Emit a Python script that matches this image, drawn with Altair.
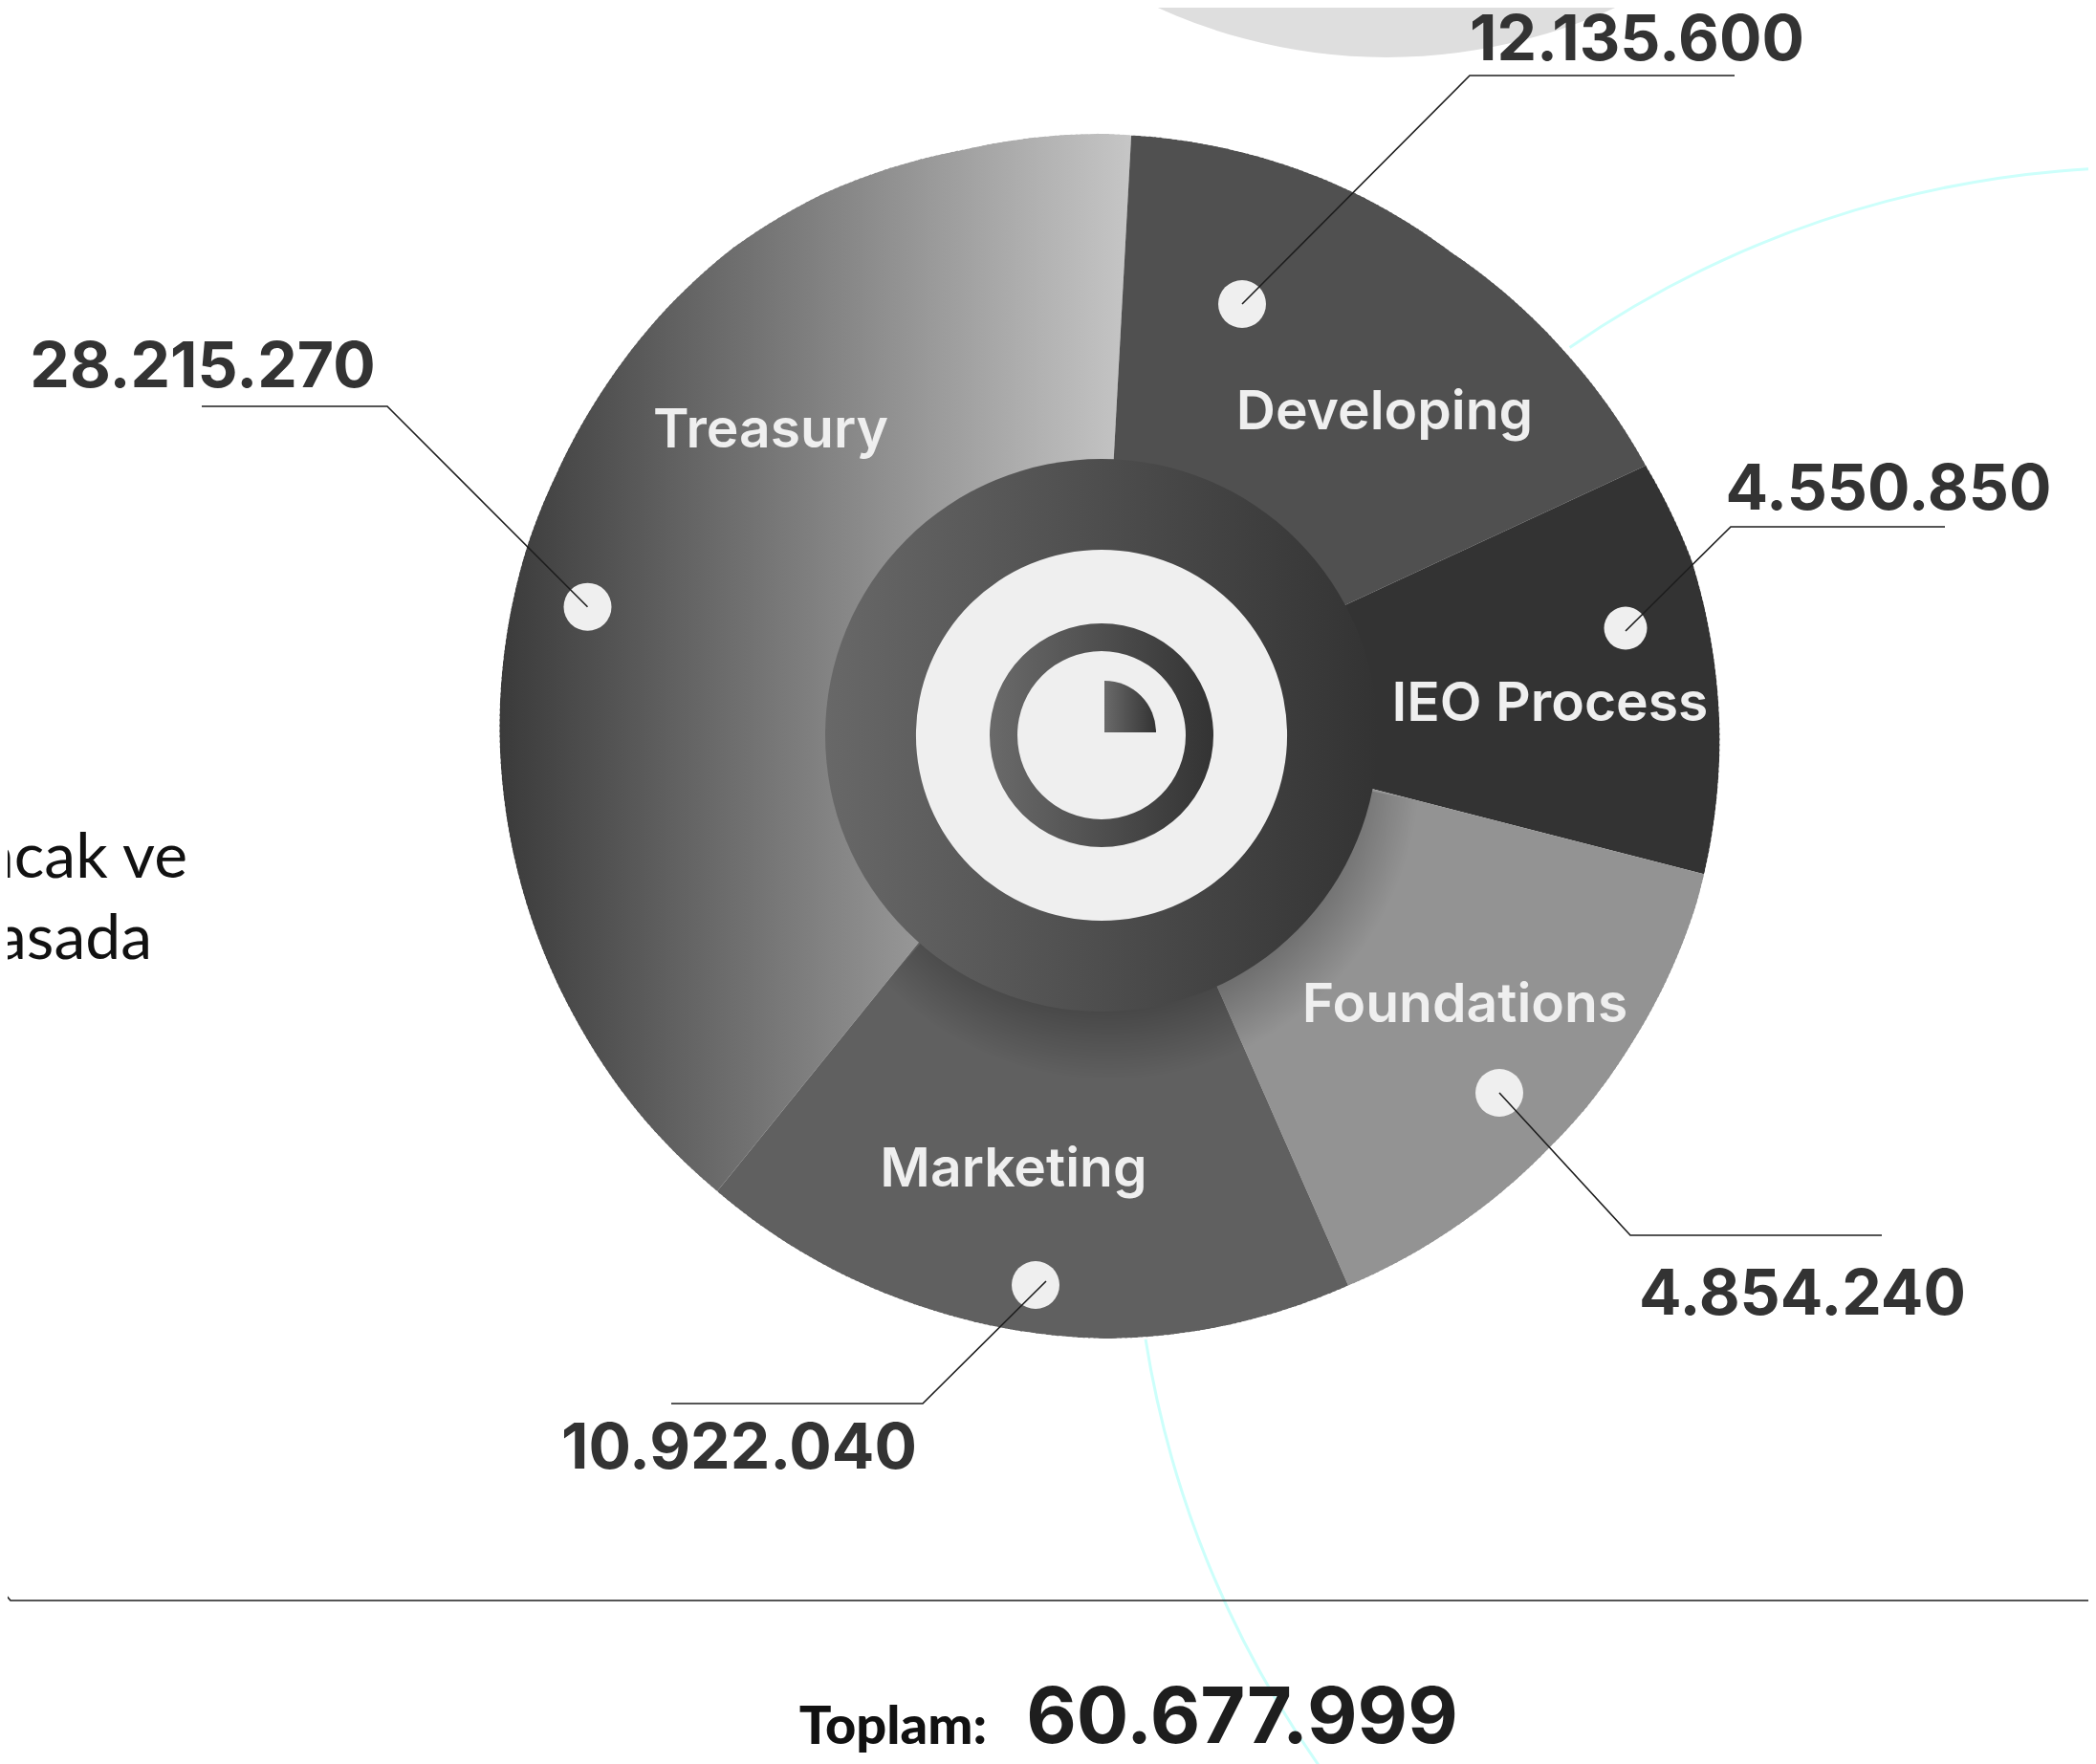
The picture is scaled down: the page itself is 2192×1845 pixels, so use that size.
import math
import altair as alt
import pandas as pd

# ---- chart values
categories = ["Treasury", "Developing", "IEO Process", "Foundations", "Marketing"]
amounts = [28215270, 12135600, 4550850, 4854240, 10922040]
total = 60677999
slice_start_deg = [219.0, 3.1, 65.1, 104.4, 156.3]
slice_end_deg = [363.1, 65.1, 104.4, 156.3, 219.0]
slice_colors = [None, "#505050", "#333333", "#939393", "#606060"]

# ---- layout of the infographic, in page pixels
W, H = 2192, 1845
APEX = (1150, 752)
RIM_CENTRE = (1160, 769)
# outline of the pie, read around the picture: angle clockwise from north, distance from centre
rim_angle = [0, 2, 24, 35, 50, 63, 73, 90, 106, 113, 121, 128, 133, 145, 157, 180, 198, 221, 231, 241,
             257, 270, 288, 295, 304, 313, 322, 332, 346, 360]
rim_dist = [629, 628, 622.6, 619, 623, 628, 636, 638.5, 639, 637, 634.4, 633, 631, 629, 627.5, 631,
            629, 629, 631, 632, 635, 637.6, 640, 639.5, 641, 643, 644, 640.6, 631, 629]
HUB = (1152, 769)
SHADOW = (1160, 805, 325)
name_pos = [(806, 468), (1448, 449), (1621, 754), (1532, 1069), (1060, 1241)]
dot_pos = [(614.5, 634.7), (1299, 318), (1700, 657), (1568, 1143), (1083, 1344)]
dot_size = [2500, 2500, 2025, 2500, 2500]
amount_pos = [(212, 405), (1712, 63), (1975, 533), (1885, 1375), (773, 1536)]
leaders = [
    [(211, 425), (405, 425), (614.5, 634.7)],
    [(1814, 79), (1537, 79), (1299, 318)],
    [(2034, 551), (1810, 551), (1700, 660)],
    [(1568, 1143), (1705, 1292), (1968, 1292)],
    [(1094, 1340), (965, 1468), (702, 1468)],
]
base_line = [(0, 1661), (11, 1674), (2184, 1674)]

xs = alt.Scale(domain=[8, W - 8], nice=False, zero=False)
ys = alt.Scale(domain=[H, 8], nice=False, zero=False)
ts = alt.Scale(domain=[0, 360], range=[0, 2 * math.pi], nice=False, zero=False)
X = alt.X("x:Q", scale=xs, axis=None)
Y = alt.Y("y:Q", scale=ys, axis=None)


def arc(cx, cy, start, end, outer, inner=0, clip=False, **style):
    df = pd.DataFrame({"x": [cx], "y": [cy], "a": [start], "b": [end]})
    return alt.Chart(df).mark_arc(
        outerRadius=outer, innerRadius=inner, clip=clip, **style
    ).encode(
        x=X, y=Y,
        theta=alt.Theta("a:Q", scale=ts, stack=None),
        theta2=alt.Theta2("b:Q"),
    )


def linear(*stops):
    return alt.LinearGradient(
        gradient="linear", x1=0, x2=1, y1=0, y2=0,
        stops=[alt.GradientStop(color=c, offset=o) for o, c in stops],
    )


def shade(start, end, alpha):
    # dark falloff below the hub, restricted to one angular sector
    inner, outer = 285, 378
    angles = [start, end] + [k * 90 for k in range(0, 5) if start < k * 90 < end]
    pts = []
    for r in (inner, outer):
        for a in angles:
            t = math.radians(a)
            pts.append((r * math.sin(t), -r * math.cos(t)))
    x0, x1 = min(p[0] for p in pts), max(p[0] for p in pts)
    y0, y1 = min(p[1] for p in pts), max(p[1] for p in pts)
    s = max(x1 - x0, y1 - y0)
    cx = 0.5 + (SHADOW[0] - HUB[0] - (x0 + x1) / 2) / s
    cy = 0.5 + (SHADOW[1] - HUB[1] - (y0 + y1) / 2) / s
    grad = alt.RadialGradient(
        gradient="radial", x1=cx, y1=cy, x2=cx, y2=cy, r1=0, r2=SHADOW[2] / s,
        stops=[
            alt.GradientStop(color=f"rgba(0,0,0,{alpha})", offset=0.76),
            alt.GradientStop(color="rgba(0,0,0,0)", offset=1),
        ],
    )
    return arc(HUB[0], HUB[1], start, end, outer, inner, fill=grad)


def text(s, x, y, size, color="#333333", font="Inter", weight=700, align="center"):
    df = pd.DataFrame({"x": [x], "y": [y], "t": [s]})
    return alt.Chart(df).mark_text(
        font=font, fontSize=size, fontWeight=weight, color=color,
        align=align, baseline="alphabetic",
    ).encode(x=X, y=Y, text="t:N")


def polyline(points, color="#1e1e1e", width=1.6):
    df = pd.DataFrame(
        {"x": [p[0] for p in points], "y": [p[1] for p in points], "o": range(len(points))}
    )
    return alt.Chart(df).mark_line(color=color, strokeWidth=width, clip=True).encode(
        x=X, y=Y, order="o:Q"
    )


layers = []

# wedges
treasury_fill = linear((0, "#3a3a3a"), (0.071, "#3a3a3a"), (0.995, "#c6c6c6"), (1, "#c6c6c6"))
for i in range(5):
    fill = treasury_fill if i == 0 else slice_colors[i]
    layers.append(arc(APEX[0], APEX[1], slice_start_deg[i], slice_end_deg[i], 680, fill=fill))

# shadow under the hub
layers.append(shade(101.7, 221, 0.27))


# white surround that trims the wedges to the pie's outline, in short overlapping steps
def rim_at(a):
    for k in range(len(rim_angle) - 1):
        if rim_angle[k] <= a <= rim_angle[k + 1]:
            f = (a - rim_angle[k]) / (rim_angle[k + 1] - rim_angle[k])
            return rim_dist[k] + f * (rim_dist[k + 1] - rim_dist[k])
    return rim_dist[-1]


rim_steps = [i * 0.5 for i in range(720)]
rim = pd.DataFrame({
    "x": RIM_CENTRE[0], "y": RIM_CENTRE[1], "a": rim_steps, "b": [a + 0.8 for a in rim_steps],
    "r": [rim_at(a + 0.25) for a in rim_steps], "o": 730,
})
layers.append(
    alt.Chart(rim).mark_arc(fill="#ffffff").encode(
        x=X, y=Y,
        theta=alt.Theta("a:Q", scale=ts, stack=None),
        theta2=alt.Theta2("b:Q"),
        radius=alt.Radius("o:Q", scale=None),
        radius2=alt.Radius2("r:Q"),
    )
)

# background decoration
layers.append(arc(1450, -516, 120, 240, 576, fill="#dedede", clip=True))
layers.append(arc(2245, 1235, 325.3, 365, 1061.5, 1058.5, fill="#ccfffb", clip=True))
layers.append(arc(2245, 1235, 225, 261, 1061.5, 1058.5, fill="#ccfffb", clip=True))

# hub
layers.append(arc(HUB[0], HUB[1], 0, 360, 289, fill=linear((0, "#686868"), (1, "#333333"))))
layers.append(arc(HUB[0], HUB[1], 0, 360, 194, fill="#efefef"))
layers.append(arc(HUB[0], HUB[1], 0, 360, 117, 88, fill=linear((0, "#6a6a6a"), (1, "#333333"))))
layers.append(arc(1155, 766, 0, 90, 54, fill=linear((0, "#6a6a6a"), (1, "#333333"))))

# dots
dots = pd.DataFrame({"x": [p[0] for p in dot_pos], "y": [p[1] for p in dot_pos], "s": dot_size})
layers.append(
    alt.Chart(dots).mark_circle(color="#efefef", opacity=1).encode(
        x=X, y=Y, size=alt.Size("s:Q", scale=None, legend=None)
    )
)

# leaders and base line
for pts in leaders:
    layers.append(polyline(pts))
layers.append(polyline(base_line))

# slice names and amounts
for i, name in enumerate(categories):
    layers.append(text(name, name_pos[i][0], name_pos[i][1], 57, color="#efefef", weight=600))
for i, v in enumerate(amounts):
    layers.append(text(f"{v:,}".replace(",", "."), amount_pos[i][0], amount_pos[i][1], 66))

# fragment of body copy and total
layers.append(text("acak ve", 196, 918, 66, "#111111", "Lato", 400, "right"))
layers.append(text("asada", 159, 1003, 66, "#111111", "Lato", 400, "right"))
layers.append(text("Toplam:", 1032, 1824, 56, "#111111", "Lato", 900, "right"))
layers.append(text(f"{total:,}".replace(",", "."), 1299, 1823, 81, "#1e1e1e"))

chart = (
    alt.layer(*layers)
    .properties(
        width=W - 16, height=H - 8, padding=0,
        autosize=alt.AutoSizeParams(type="none"), background="#ffffff",
    )
    .configure_view(stroke=None)
)
chart.save("out.html", embed_options={"renderer": "svg", "actions": False})
